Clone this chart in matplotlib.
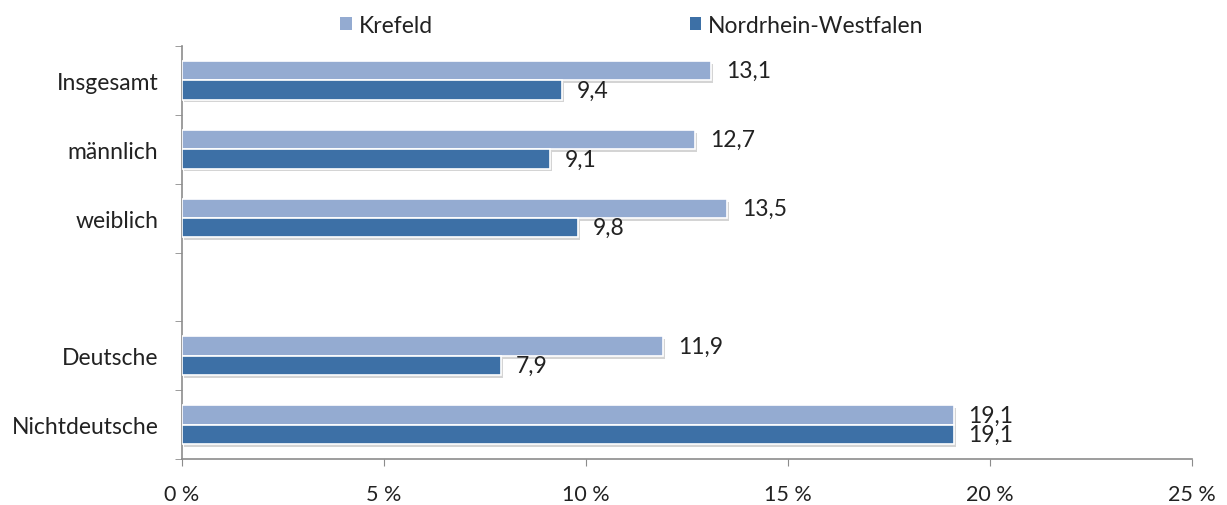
import numpy as np
import matplotlib
matplotlib.use("Agg")
import matplotlib.pyplot as plt
import matplotlib.patheffects as pe

plt.rcParams["font.family"] = ["Lato", "DejaVu Sans"]

categories = ["Insgesamt", "männlich", "weiblich", "", "Deutsche", "Nichtdeutsche"]
krefeld = [13.1, 12.7, 13.5, np.nan, 11.9, 19.1]
nrw = [9.4, 9.1, 9.8, np.nan, 7.9, 19.1]
xticks = [0, 5, 10, 15, 20, 25]

LIGHT = "#94ABD1"
DARK = "#3D70A6"
AXIS = "#8C8C8C"
INK = "#222222"

fig = plt.figure(figsize=(12.27, 5.06), dpi=100)
ax = fig.add_axes([182 / 1227, 1 - 460 / 506, 1010 / 1227, 413 / 506])

ypos = np.arange(len(categories))
h = 0.28
shadow = [pe.SimplePatchShadow(offset=(1.5, -2), shadow_rgbFace="#a0a0a0", alpha=0.45), pe.Normal()]

for vals, off, col, name in [(krefeld, -h / 2, LIGHT, "Krefeld"), (nrw, h / 2, DARK, "Nordrhein-Westfalen")]:
    bars = ax.barh(ypos + off, vals, height=h, color=col, edgecolor="white", linewidth=1.2,
                   label=name, zorder=3)
    for b in bars:
        b.set_path_effects(shadow)
    for y, v in zip(ypos, vals):
        if np.isnan(v):
            continue
        ax.text(v + 0.37, y + off, f"{v:.1f}".replace(".", ","), va="center", ha="left",
                fontsize=16.5, color=INK)

ax.set_ylim(len(categories) - 0.5, -0.5)
ax.set_xlim(0, 25)
ax.set_yticks(ypos)
ax.set_yticklabels(categories, fontsize=16.5, color=INK)
ax.set_yticks(np.arange(-0.5, len(categories)), minor=True)
ax.tick_params(axis="y", which="major", length=0, pad=17)
ax.tick_params(axis="y", which="minor", length=5, color=AXIS, direction="out")
ax.set_xticks(xticks)
ax.set_xticklabels([f"{t} %" for t in xticks], fontsize=15.5, color=INK)
ax.tick_params(axis="x", length=5, color=AXIS, direction="out", pad=13)

for s in ["top", "right"]:
    ax.spines[s].set_visible(False)
for s in ["left", "bottom"]:
    ax.spines[s].set_color(AXIS)
    ax.spines[s].set_linewidth(1.2)

leg = fig.legend(loc="upper center", bbox_to_anchor=(0.515, 1.01), ncol=2, frameon=False,
                 fontsize=16.5, handlelength=0.5, handleheight=0.5, handletextpad=0.3,
                 columnspacing=11.2)
for t in leg.get_texts():
    t.set_color(INK)
for hnd in leg.legend_handles:
    hnd.set_path_effects([])
    hnd.set_edgecolor("none")

fig.savefig("out.png", dpi=100)
